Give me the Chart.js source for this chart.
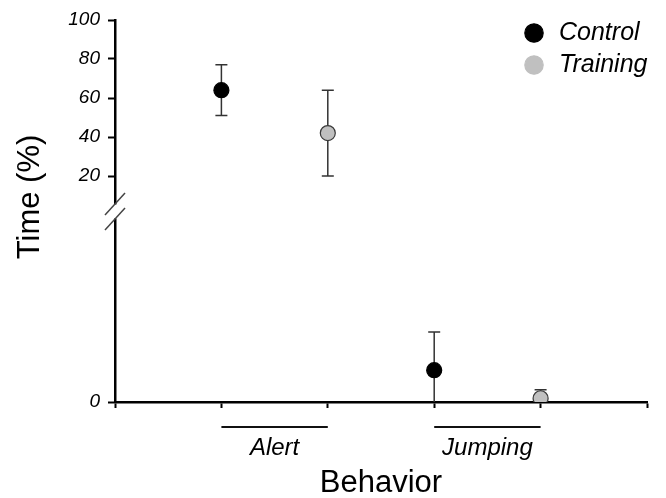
<!DOCTYPE html>
<html>
<head>
<meta charset="utf-8">
<title>Time by behavior</title>
<script src="https://cdn.jsdelivr.net/npm/chart.js@4.4.1/dist/chart.umd.min.js"></script>
<style>
  html, body { margin: 0; padding: 0; background: #fff; }
  #wrap { width: 666px; height: 498px; position: relative; }
</style>
</head>
<body>
<div id="wrap"><canvas id="myChart"></canvas></div>
<script>
// Behaviors along the x axis, each one holds a Control and a Training point
const behaviors = ['Alert', 'Jumping'];
// Alert is plotted on the upper part of the broken axis, Jumping on the lower part
const behaviorAxis = ['yTop', 'yLow'];

// Mean time (%) and error for each behavior
const controlMean = [64, 3.4];
const controlErr = [13, 4.1];
const trainingMean = [42, 0.4];
const trainingErr = [22, 0.9];

// Tick values
const upperTicks = [20, 40, 60, 80, 100];
const lowerTicks = [0];
const xTicks = [0, 1, 2, 3, 4, 5];

const fontFamily = "'Liberation Sans', Arial, Helvetica, sans-serif";
Chart.defaults.font.family = fontFamily;
Chart.defaults.color = '#000';

var datasets = [];

// One dataset per behavior, because each behavior sits on its own y axis
function addSeries(label, means, errs, slot, fill, border) {
    for (let i = 0; i < behaviors.length; i++) {
        datasets.push({
            label: label,
            data: [{ x: i * 2 + slot, y: means[i] }],
            errors: [errs[i]],
            yAxisID: behaviorAxis[i],
            inLegend: i === 0,
            backgroundColor: fill,
            borderColor: border,
            borderWidth: 1.2,
            pointStyle: 'circle',
            pointRadius: 7.5,
            pointHoverRadius: 7.5
        });
    }
}

addSeries('Control', controlMean, controlErr, 1, '#000000', '#000000');
addSeries('Training', trainingMean, trainingErr, 2, '#c0c0c0', '#3a3a3a');

// Error bars, drawn behind the points
const errorBars = {
    id: 'errorBars',
    beforeDatasetsDraw(chart) {
        const ctx = chart.ctx;
        const area = chart.chartArea;
        ctx.save();
        ctx.beginPath();
        ctx.rect(area.left, area.top, area.right - area.left, area.bottom - area.top);
        ctx.clip();
        ctx.strokeStyle = '#333';
        ctx.lineWidth = 1.5;
        chart.data.datasets.forEach(function (ds, di) {
            const meta = chart.getDatasetMeta(di);
            const yScale = chart.scales[ds.yAxisID];
            ds.data.forEach(function (pt, j) {
                const x = meta.data[j].x;
                const yHi = yScale.getPixelForValue(pt.y + ds.errors[j]);
                const yLo = yScale.getPixelForValue(pt.y - ds.errors[j]);
                ctx.beginPath();
                ctx.moveTo(x, yHi);
                ctx.lineTo(x, yLo);
                ctx.moveTo(x - 6, yHi);
                ctx.lineTo(x + 6, yHi);
                ctx.moveTo(x - 6, yLo);
                ctx.lineTo(x + 6, yLo);
                ctx.stroke();
            });
        });
        ctx.restore();
    }
};

// The // mark where the y axis is broken
const axisBreak = {
    id: 'axisBreak',
    afterDraw(chart) {
        const ctx = chart.ctx;
        const x = chart.chartArea.left;
        const yc = chart.scales.yTop.bottom - 3.5;
        ctx.save();
        ctx.fillStyle = '#fff';
        ctx.fillRect(x - 4, yc - 7, 8, 14);
        ctx.strokeStyle = '#444';
        ctx.lineWidth = 1.5;
        [-7.5, 7.5].forEach(function (off) {
            ctx.beginPath();
            ctx.moveTo(x - 10, yc + off + 11);
            ctx.lineTo(x + 10, yc + off - 11);
            ctx.stroke();
        });
        ctx.restore();
    }
};

// Bracket line and name under each behavior group
const groupLabels = {
    id: 'groupLabels',
    afterDraw(chart) {
        const ctx = chart.ctx;
        const xs = chart.scales.x;
        const base = chart.chartArea.bottom;
        ctx.save();
        ctx.strokeStyle = '#111';
        ctx.lineWidth = 2;
        ctx.fillStyle = '#000';
        ctx.font = 'italic 24px ' + fontFamily;
        ctx.textAlign = 'center';
        ctx.textBaseline = 'middle';
        behaviors.forEach(function (name, i) {
            const x1 = xs.getPixelForValue(i * 2 + 1);
            const x2 = xs.getPixelForValue(i * 2 + 2);
            ctx.beginPath();
            ctx.moveTo(x1, base + 25);
            ctx.lineTo(x2, base + 25);
            ctx.stroke();
            ctx.fillText(name, (x1 + x2) / 2, base + 46);
        });
        ctx.restore();
    }
};

// y title spans both stacked axes, so it is drawn here
const yTitle = {
    id: 'yTitle',
    afterDraw(chart) {
        const ctx = chart.ctx;
        const area = chart.chartArea;
        ctx.save();
        ctx.translate(30, (area.top + area.bottom) / 2 - 14);
        ctx.rotate(-Math.PI / 2);
        ctx.fillStyle = '#000';
        ctx.font = '31px ' + fontFamily;
        ctx.textAlign = 'center';
        ctx.textBaseline = 'middle';
        ctx.fillText('Time (%)', 0, 0);
        ctx.restore();
    }
};

// move the legend to the top right corner of the plot
const legendPlace = {
    id: 'legendPlace',
    afterLayout(chart) {
        const lg = chart.legend;
        const w = lg.width;
        lg.left = chart.chartArea.right - 132.5;
        lg.right = lg.left + w;
        lg.top = chart.chartArea.top - 6.5;
    }
};

function tickGrid(len) {
    return {
        display: true,
        drawOnChartArea: false,
        drawTicks: true,
        tickLength: len,
        tickWidth: 2,
        tickColor: '#000'
    };
}

const axisBorder = { display: true, color: '#000', width: 2.5 };
const tickFont = { size: 19, style: 'italic' };

const ctx = document.getElementById('myChart');
var myChart = new Chart(ctx, {
    type: 'scatter',
    data: { datasets: datasets },
    plugins: [errorBars, axisBreak, groupLabels, yTitle, legendPlace],
    options: {
        responsive: true,
        maintainAspectRatio: false,
        animation: false,
        events: [],
        layout: { padding: { left: 60, right: 19, top: 20, bottom: 0 } },
        plugins: {
            tooltip: { enabled: false },
            legend: {
                position: 'chartArea',
                align: 'start',
                labels: {
                    usePointStyle: true,
                    pointStyle: 'circle',
                    boxWidth: 25,
                    boxHeight: 13,
                    padding: 7,
                    color: '#000',
                    font: { size: 25, style: 'italic' },
                    filter: function (item, data) {
                        return data.datasets[item.datasetIndex].inLegend;
                    },
                    generateLabels: function (chart) {
                        const items = Chart.defaults.plugins.legend.labels.generateLabels(chart);
                        items.forEach(function (it) { it.strokeStyle = it.fillStyle; });
                        return items;
                    }
                }
            }
        },
        scales: {
            x: {
                type: 'linear',
                min: 0,
                max: 5,
                afterBuildTicks: function (s) { s.ticks = xTicks.map(function (v) { return { value: v }; }); },
                ticks: { display: false },
                grid: tickGrid(6),
                border: axisBorder,
                title: {
                    display: true,
                    text: 'Behavior',
                    color: '#000',
                    font: { size: 31 },
                    padding: { top: 0, bottom: -4 }
                },
                afterFit: function (s) { s.height = 96; }
            },
            yLow: {
                type: 'linear',
                position: 'left',
                stack: 'time',
                stackWeight: 187,
                min: 0,
                max: 20,
                afterBuildTicks: function (s) { s.ticks = lowerTicks.map(function (v) { return { value: v }; }); },
                ticks: { font: tickFont, color: '#000', padding: 8 },
                grid: tickGrid(7),
                border: axisBorder,
                afterFit: function (s) { s.width = 55; }
            },
            yTop: {
                type: 'linear',
                position: 'left',
                stack: 'time',
                stackWeight: 195,
                min: 0,
                max: 100,
                afterBuildTicks: function (s) { s.ticks = upperTicks.map(function (v) { return { value: v }; }); },
                ticks: { font: tickFont, color: '#000', padding: 8 },
                grid: tickGrid(7),
                border: axisBorder,
                afterFit: function (s) { s.width = 55; }
            }
        }
    }
});
</script>
</body>
</html>
